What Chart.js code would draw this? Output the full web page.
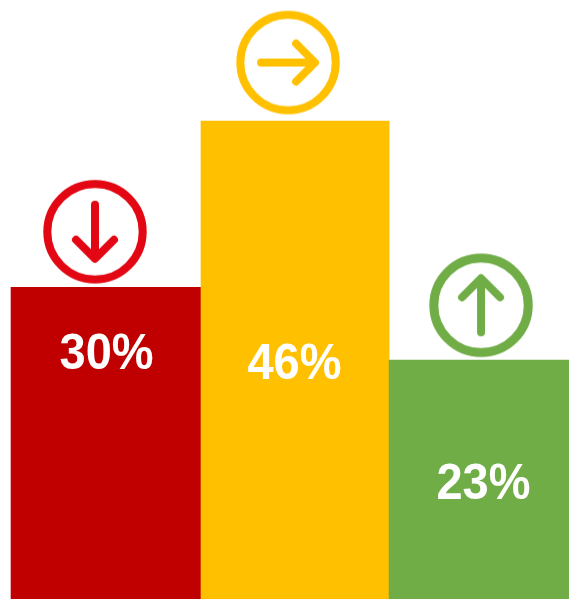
<!DOCTYPE html>
<html>
<head>
<meta charset="utf-8">
<style>html,body{margin:0;padding:0;background:#fff}canvas{display:block}</style>
<script src="https://cdn.jsdelivr.net/npm/chart.js@4"></script>
</head>
<body>
<canvas id="c" width="569" height="599"></canvas>
<script>
// Data
const categories = ['Down', 'Stable', 'Up'];
const values = [30, 46, 23];
const barX = [1, 2, 2.98];
const barColors = ['#C00000', '#FFC000', '#70AD47'];
const labelX = [1.003, 1.992, 2.987];
const labelY = [22.14, 21.22, 9.67];
const iconX = [0.942, 1.958, 2.974];
const iconY = [35.35, 51.63, 28.27];
const iconColors = ['#E30613', '#FFC000', '#70AD47'];
const iconAngles = [0, -90, 180]; // degrees, 0 = arrow pointing down
const iconStroke = [8, 8, 9];

function makeIcon(color, angle, ringWidth) {
  const size = 112, cv = document.createElement('canvas');
  cv.width = size; cv.height = size;
  const g = cv.getContext('2d');
  g.translate(size / 2, size / 2);
  g.strokeStyle = color;
  g.lineWidth = ringWidth;
  g.beginPath();
  g.arc(0, 0, 51.7 - ringWidth / 2, 0, Math.PI * 2);
  g.stroke();
  g.rotate(angle * Math.PI / 180);
  g.lineWidth = 8; g.lineCap = 'round'; g.lineJoin = 'round';
  g.beginPath();
  g.moveTo(0, -27); g.lineTo(0, 25);
  g.moveTo(-19, 8); g.lineTo(0, 27); g.lineTo(19, 8);
  g.stroke();
  return cv;
}

const valueLabels = {
  id: 'valueLabels',
  afterDatasetsDraw(chart) {
    const { ctx, scales: { x, y } } = chart;
    ctx.save();
    ctx.fillStyle = '#FFFFFF';
    ctx.font = 'bold 47px "Liberation Sans", Arial, sans-serif';
    ctx.textAlign = 'center';
    ctx.textBaseline = 'alphabetic';
    values.forEach((v, i) => {
      ctx.save();
      ctx.translate(x.getPixelForValue(labelX[i]), y.getPixelForValue(labelY[i]));
      ctx.scale(1, 1.08);
      ctx.fillText(v + '%', 0, 0);
      ctx.restore();
    });
    ctx.restore();
  }
};

new Chart(document.getElementById('c'), {
  data: {
    datasets: [
      {
        type: 'scatter',
        data: iconX.map((vx, i) => ({ x: vx, y: iconY[i] })),
        pointStyle: iconColors.map((col, i) => makeIcon(col, iconAngles[i], iconStroke[i])),
        order: 0,
        clip: false
      },
      {
        type: 'bar',
        data: barX.map((vx, i) => ({ x: vx, y: values[i], name: categories[i] })),
        backgroundColor: barColors,
        borderWidth: 0,
        barThickness: 'flex',
        categoryPercentage: 1,
        barPercentage: 1,
        order: 1
      }
    ]
  },
  options: {
    responsive: false,
    animation: false,
    events: [],
    layout: { padding: 0, autoPadding: false },
    plugins: { legend: { display: false }, tooltip: { enabled: false } },
    scales: {
      x: { type: 'linear', display: false, offset: false, min: 0.442, max: 3.437 },
      y: { type: 'linear', display: false, min: 0, max: 57.65 }
    }
  },
  plugins: [valueLabels]
});
</script>
</body>
</html>
